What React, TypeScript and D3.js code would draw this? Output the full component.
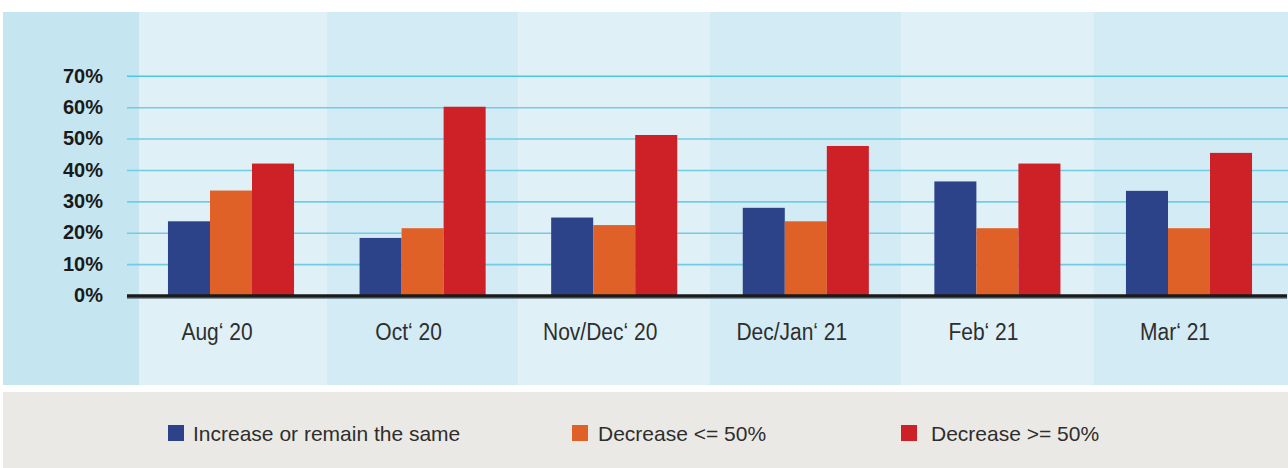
import React from "react";
import * as d3 from "d3";

const categories = ["Aug\u2018 20", "Oct\u2018 20", "Nov/Dec\u2018 20", "Dec/Jan\u2018 21", "Feb\u2018 21", "Mar\u2018 21"];
const seriesNames = ["Increase or remain the same", "Decrease <= 50%", "Decrease >= 50%"];
const increaseOrSame = [23.8, 18.5, 25.0, 28.1, 36.5, 33.5];
const decreaseLE50 = [33.6, 21.6, 22.6, 23.8, 21.6, 21.6];
const decreaseGE50 = [42.2, 60.3, 51.3, 47.8, 42.2, 45.6];
const yTicks = [0, 10, 20, 30, 40, 50, 60, 70];
const seriesColors = ["#2c4389", "#e06127", "#cd2027"];

const W = 1288;
const H = 468;

export default function App() {
  const values = [increaseOrSame, decreaseLE50, decreaseGE50];
  const x = d3.scaleBand<string>().domain(categories).range([135.2, 1284.8]).paddingInner(0.342).paddingOuter(0.171);
  const xs = d3.scaleBand<string>().domain(seriesNames).range([0, x.bandwidth()]).padding(0);
  const y = d3.scaleLinear().domain([0, 70]).range([296, 76.3]);

  const centers = categories.map((c) => (x(c) as number) + x.bandwidth() / 2);
  const panelTop = 12;
  const panelBottom = 385;
  const axisColRight = 139;
  const bands = categories.map((c, i) => {
    const left = i === 0 ? axisColRight : (centers[i - 1] + centers[i]) / 2;
    const right = i === categories.length - 1 ? W : (centers[i] + centers[i + 1]) / 2;
    return { left, right, i };
  });

  const legendX = [168, 572, 901];
  const font = "'Liberation Sans', Arial, sans-serif";

  return (
    <svg width={W} height={H} style={{ position: "absolute", left: 0, top: 0, background: "#ffffff" }}>
      {/* panel */}
      <rect x={3} y={panelTop} width={axisColRight - 3} height={panelBottom - panelTop} fill="#c5e6f0" />
      {bands.map((b) => (
        <rect key={b.i} x={b.left} y={panelTop} width={b.right - b.left} height={panelBottom - panelTop} fill={b.i % 2 === 0 ? "#dff1f7" : "#d3ebf4"} />
      ))}
      {/* gridlines */}
      {yTicks.filter((t) => t > 0).map((t) => (
        <line key={t} x1={127} x2={W} y1={y(t)} y2={y(t)} stroke={t === 70 ? "#4fc4e6" : "#72cce4"} strokeWidth={1.6} />
      ))}
      {/* y labels */}
      {yTicks.map((t) => (
        <text key={t} x={103} y={y(t) - 1} dy="0.36em" textAnchor="end" fontFamily={font} fontWeight="bold" fontSize={20} fill="#1a1a1a">
          {t}%
        </text>
      ))}
      {/* bars */}
      {categories.map((c, ci) => (
        <g key={c} transform={`translate(${x(c)},0)`}>
          {seriesNames.map((s, si) => (
            <rect key={s} x={xs(s)} y={y(values[si][ci])} width={xs.bandwidth()} height={y(0) - y(values[si][ci])} fill={seriesColors[si]} />
          ))}
        </g>
      ))}
      {/* baseline */}
      <line x1={127} x2={1287} y1={y(0) + 2.3} y2={y(0) + 2.3} stroke="#6a7a80" strokeWidth={1} />
      <line x1={127} x2={1287} y1={y(0)} y2={y(0)} stroke="#1a1a1a" strokeWidth={3.6} />
      {/* category labels */}
      {categories.map((c, ci) => (
        <text key={c} transform={`translate(${centers[ci] - 14},340) scale(1,1.14)`} textAnchor="middle" fontFamily={font} fontSize={21} fill="#2e2e2e">
          {c}
        </text>
      ))}
      {/* legend */}
      <rect x={3} y={392} width={W - 3} height={H - 392} fill="#ebe9e5" />
      {seriesNames.map((s, si) => (
        <g key={s}>
          <rect x={legendX[si]} y={425} width={16} height={16} fill={seriesColors[si]} />
          <text x={legendX[si] + [25, 26, 30][si]} y={441} fontFamily={font} fontSize={21} fill="#2e2e2e">
            {s}
          </text>
        </g>
      ))}
    </svg>
  );
}
